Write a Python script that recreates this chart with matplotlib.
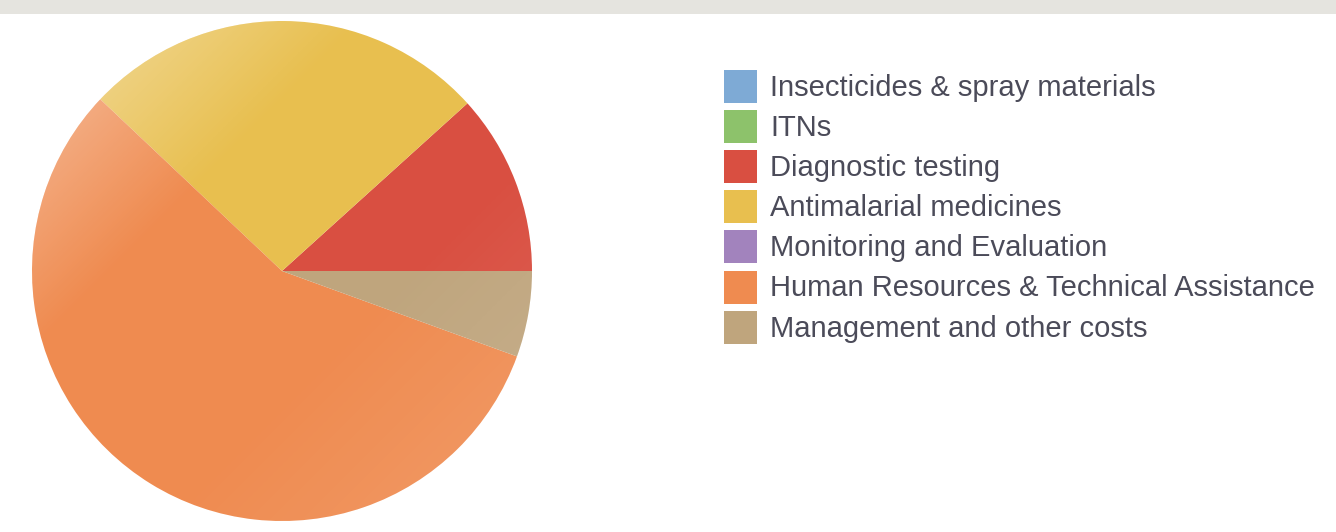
import numpy as np
import matplotlib.pyplot as plt
from matplotlib.patches import Rectangle, Circle

# share of budget (%) per category
categories = ['Insecticides & spray materials', 'ITNs', 'Diagnostic testing',
              'Antimalarial medicines', 'Monitoring and Evaluation',
              'Human Resources & Technical Assistance', 'Management and other costs']
shares = [0, 0, 11.7, 26.25, 0, 56.5, 5.55]
colors = ['#7eaad5', '#8dc26b', '#d94f41', '#e8bf4f', '#a283bd', '#ef8b50', '#bfa57d']

W, H = 1336, 532
fig = plt.figure(figsize=(W / 100, H / 100), dpi=100)
fig.patch.set_facecolor('white')

# grey strip along the top
fig.patches.append(Rectangle((0, 1 - 14 / H), 1, 14 / H, transform=fig.transFigure,
                             facecolor='#e5e4df', edgecolor='none'))

ax = fig.add_axes([32 / W, (H - 521) / H, 500 / W, 500 / H])
ax.pie(shares, colors=colors, startangle=0, counterclock=True, radius=1,
       wedgeprops=dict(linewidth=0, antialiased=True))
ax.set_xlim(-1, 1)
ax.set_ylim(-1, 1)
ax.set_aspect('equal')
ax.axis('off')

# soft white sheen, light at top-left, a touch at bottom-right
n = 400
xx, yy = np.meshgrid(np.linspace(0, 1, n), np.linspace(0, 1, n))
t = (xx + yy) / 2
alpha = 0.48 * np.clip(1 - t / 0.33, 0, 1) + 0.14 * np.clip((t - 0.62) / 0.38, 0, 1)
sheen = np.zeros((n, n, 4))
sheen[..., :3] = 1
sheen[..., 3] = alpha
im = ax.imshow(sheen, extent=[-1, 1, -1, 1], origin='upper', zorder=5)
im.set_clip_path(Circle((0, 0), 1, transform=ax.transData))

# legend
for i, (cat, col) in enumerate(zip(categories, colors)):
    yc = 86 + i * 40.2
    fig.patches.append(Rectangle((724 / W, (H - yc - 16.5) / H), 33 / W, 33 / H,
                                 transform=fig.transFigure, facecolor=col, edgecolor='none'))
    fig.text(770 / W, (H - yc + 1.5) / H, cat, ha='left', va='center_baseline',
             fontsize=21, family='Liberation Sans', color='#4b4b59')

fig.savefig('out.png', dpi=100)
